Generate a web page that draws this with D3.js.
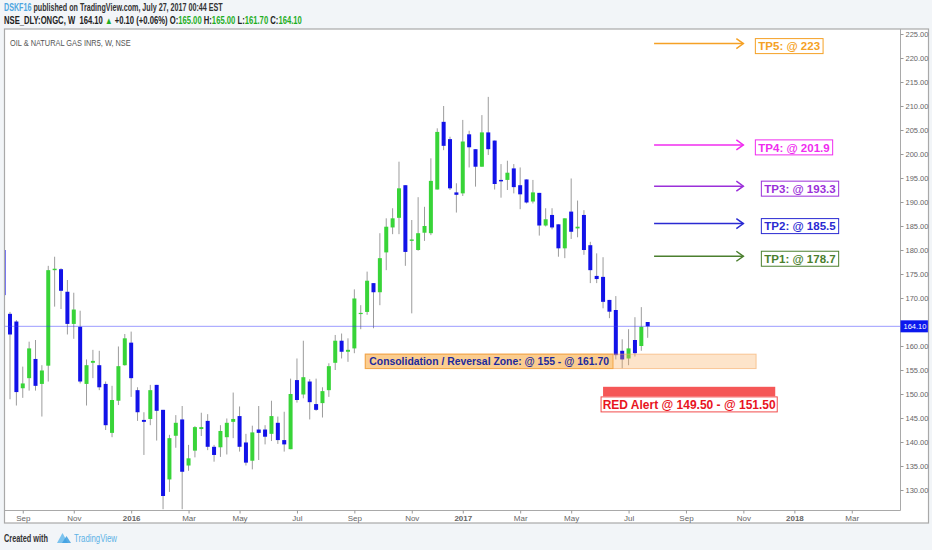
<!DOCTYPE html>
<html>
<head>
<meta charset="utf-8">
<script src="https://cdnjs.cloudflare.com/ajax/libs/d3/7.8.5/d3.min.js"></script>
<style>
  html, body { margin: 0; padding: 0; background: #f2f5f8; }
  svg { display: block; font-family: "Liberation Sans", Arial, sans-serif; }
  text { white-space: pre; }
</style>
</head>
<body>
<div id="chart"></div>
<script>
// ---- data (weekly bars, ONGC, NSE) ----
const firstWeek = '2015-08-17';
const lastWeek = '2017-07-24';

const open = [180.0,166.7,165.1,151.2,153.3,157.3,152.1,155.9,175.8,176.0,
  171.3,164.6,164.0,152.1,156.5,156.0,152.1,141.9,148.6,156.0,
  160.7,150.8,144.6,144.8,151.9,146.7,132.2,141.3,144.7,135.1,
  138.2,142.7,144.4,139.0,138.9,141.0,144.2,145.4,139.9,136.1,
  142.6,142.6,141.7,144.0,140.4,138.5,152.9,149.9,152.6,147.9,
  148.1,150.8,156.5,161.1,158.8,159.5,166.7,167.1,173.1,171.2,
  179.5,184.7,186.7,193.5,181.9,180.0,183.6,183.5,192.6,206.7,
  203.1,192.0,191.8,204.1,201.0,197.35,204.5,202.8,194.6,194.6,
  197.0,193.5,194.7,190.1,191.9,185.1,187.3,185.35,180.35,188.0,
  184.5,187.3,181.0,174.6,174.4,169.6,167.5,159.0,157.4,161.25,
  160.0,165.0];
const high = [180.5,167.1,165.4,155.7,160.9,161.25,156.0,176.7,178.6,176.2,
  173.75,171.1,167.35,157.2,159.2,159.0,152.6,151.7,159.9,162.5,
  163.0,151.4,146.2,151.9,151.9,146.7,141.5,145.6,147.5,139.4,
  143.3,146.1,145.8,139.4,143.5,144.9,150.3,147.4,141.7,143.4,
  147.5,143.5,148.6,145.3,146.3,153.2,157.4,161.1,153.1,153.2,
  151.4,156.4,162.3,162.6,161.6,171.8,168.5,175.5,173.1,183.5,
  186.6,188.7,198.4,193.5,186.25,191.0,189.0,199.1,205.35,210.0,
  203.6,193.9,207.1,204.85,201.0,208.1,211.9,202.8,197.9,198.6,
  197.9,197.2,194.7,194.6,191.9,188.7,188.7,185.35,186.6,194.9,
  190.3,188.3,181.7,179.3,178.5,169.6,170.4,161.4,163.5,166.0,
  168.1,165.0];
const low = [169.5,148.9,147.6,149.2,150.7,150.7,145.3,152.6,168.2,167.7,
  162.4,161.5,152.2,147.6,153.3,150.8,142.5,141.0,147.7,155.9,
  149.4,144.4,137.3,143.5,140.3,126.0,129.6,138.8,126.0,134.0,
  136.8,141.25,138.3,135.9,136.9,137.4,140.8,138.0,135.1,134.3,
  136.25,139.5,140.2,139.6,138.0,138.5,148.2,149.1,144.7,146.5,
  145.1,149.4,155.0,157.4,156.7,158.5,163.5,166.5,163.7,168.5,
  175.8,183.3,183.3,176.7,166.8,179.85,181.9,183.1,192.6,200.8,
  192.5,187.8,191.25,197.2,193.2,197.35,199.8,192.6,190.9,192.5,
  191.8,188.5,189.7,189.7,183.0,184.9,184.3,178.6,178.3,182.3,
  182.65,179.0,173.1,173.1,167.85,165.8,157.2,155.35,156.0,157.8,
  159.0,161.7];
const close = [170.6,162.4,150.4,152.2,159.5,151.7,154.9,175.8,176.1,171.5,
  164.6,167.6,152.6,156.0,156.9,151.4,143.5,148.75,155.8,161.6,
  153.3,146.2,144.2,150.8,146.5,128.75,140.8,144.0,133.8,136.6,
  143.1,143.1,139.0,137.3,142.3,144.0,144.8,139.0,135.7,142.0,
  141.9,141.1,145.4,140.4,139.5,150.0,148.75,153.5,148.3,146.7,
  150.6,155.8,161.1,158.8,159.2,169.9,166.9,173.6,171.2,178.3,
  184.85,186.6,192.85,179.6,182.2,183.5,185.0,194.4,204.6,201.7,
  192.85,191.5,202.6,201.4,197.35,204.5,201.0,193.75,194.3,196.1,
  193.1,191.6,189.9,192.0,185.1,186.4,184.7,180.35,186.6,183.8,
  184.85,180.0,175.8,173.95,169.2,167.15,158.1,157.2,159.5,158.5,
  164.0,164.1];

const yTicks = [130,135,140,145,150,155,160,165,170,175,180,185,190,195,200,205,210,215,220,225];
const tickMonths = ['2015-09','2015-11','2016-01','2016-03','2016-05','2016-07','2016-09','2016-11',
  '2017-01','2017-03','2017-05','2017-07','2017-09','2017-11','2018-01','2018-03'];
const tickLabels = ['Sep','Nov','2016','Mar','May','Jul','Sep','Nov',
  '2017','Mar','May','Jul','Sep','Nov','2018','Mar'];

// targets drawn by the author
const tpNames = ['TP1','TP2','TP3','TP4','TP5'];
const tpLevels = [178.7, 185.5, 193.3, 201.9, 223];
const arrowFrom = '2017-07-31', arrowTo = '2017-11-06';
const zoneBand = [155.3, 158.3];
const zoneFrom = '2016-09-17', zoneTo = '2017-11-20';
const zoneText = 'Consolidation / Reversal Zone: @ 155 - @ 161.70';
const alertBand = [149.5, 151.5];
const alertFrom = '2017-06-05', alertTo = '2017-12-11';
const alertText = 'RED Alert @ 149.50 - @ 151.50';

// ---- layout / style ----
const W = 932, H = 550;
const PL = 4.5, PR = 900.5, PT = 29, PB = 510.5, FR = 928.5, FB = 523;
const UP = '#38d438', DOWN = '#1212e8', WICK = '#9c9c9c';
const tpColors = ['#4b7f2e', '#2a2ad2', '#9b30d9', '#f02cef', '#f5a125'];
const tpGap = [18, 18, 18, 12, 12];

const parseDay = d3.timeParse('%Y-%m-%d');
const parseMonth = d3.timeParse('%Y-%m');
const weeks = d3.timeMonday.range(parseDay(firstWeek), d3.timeDay.offset(parseDay(lastWeek), 1));
const bars = weeks.map((d, i) => ({ date: d, o: open[i], h: high[i], l: low[i], c: close[i] }));

const x = d3.scaleTime().domain([weeks[1], weeks[weeks.length - 1]]).range([10, 647.7]);
const y = d3.scaleLinear().domain([130, 225]).range([490, 34]);

const svg = d3.select('#chart').append('svg').attr('width', W).attr('height', H);
svg.append('rect').attr('width', W).attr('height', H).attr('fill', '#f2f5f8');

function fit(sel, x0, w) {
  const len = sel.node().getComputedTextLength();
  sel.attr('x', 0).attr('transform', `translate(${x0},0) scale(${w / len},1)`);
}

// ---- header ----
const last = bars[bars.length - 1], prev = bars[bars.length - 2];
const chg = last.c - prev.c;
const f2 = d3.format('.2f');
const GREEN_TXT = '#1fae1f';

const h1 = svg.append('text').attr('y', 11).style('font-size', '10px').style('font-weight', 'bold');
h1.append('tspan').attr('fill', '#4ea6df').text('DSKF16');
h1.append('tspan').attr('fill', '#333').text(' published on TradingView.com, July 27, 2017 00:44 EST');
fit(h1, 4, 219);

const h2 = svg.append('text').attr('y', 24.5).style('font-size', '10px').style('font-weight', 'bold').attr('fill', '#222');
h2.append('tspan').text(`NSE_DLY:ONGC, W  ${f2(last.c)} `);
h2.append('tspan').attr('fill', GREEN_TXT).text(chg >= 0 ? '\u25B2' : '\u25BC');
h2.append('tspan').text(` ${chg >= 0 ? '+' : ''}${f2(chg)} (${chg >= 0 ? '+' : ''}${f2(chg / prev.c * 100)}%) O:`);
h2.append('tspan').attr('fill', GREEN_TXT).text(f2(last.o));
h2.append('tspan').text(' H:');
h2.append('tspan').attr('fill', GREEN_TXT).text(f2(last.h));
h2.append('tspan').text(' L:');
h2.append('tspan').attr('fill', GREEN_TXT).text(f2(last.l));
h2.append('tspan').text(' C:');
h2.append('tspan').attr('fill', GREEN_TXT).text(f2(last.c));
fit(h2, 4, 298);

// ---- frame ----
svg.append('rect').attr('x', PL).attr('y', PT).attr('width', FR - PL).attr('height', FB - PT)
  .attr('fill', '#fff').attr('stroke', '#a9a9a9').attr('stroke-width', 1.2);
svg.append('line').attr('x1', PR).attr('x2', PR).attr('y1', PT).attr('y2', PB).attr('stroke', '#a9a9a9');
svg.append('line').attr('x1', PL).attr('x2', PR).attr('y1', PB).attr('y2', PB).attr('stroke', '#a9a9a9');

svg.append('clipPath').attr('id', 'plotClip').append('rect')
  .attr('x', PL + 0.6).attr('y', PT + 0.6).attr('width', PR - PL - 1.1).attr('height', PB - PT - 1.1);

const title = svg.append('text').attr('y', 46.5).attr('fill', '#555').style('font-size', '9px')
  .text('OIL & NATURAL GAS INR5, W, NSE');
fit(title, 10, 121);

// ---- axes ----
const yAxis = svg.append('g').attr('transform', `translate(${PR},0)`)
  .call(d3.axisRight(y).tickValues(yTicks).tickSize(3).tickPadding(2).tickFormat(f2));
yAxis.select('.domain').remove();
yAxis.selectAll('.tick line').attr('stroke', '#999');
yAxis.selectAll('text').style('font-size', '7.5px').style('fill', '#666');
// the last-price tag sits over the nearest tick label, as in the original
yAxis.selectAll('.tick').filter(d => Math.abs(y(d) - y(close[close.length - 1])) < 9)
  .select('text').remove();

const tickDates = tickMonths.map(m => d3.timeMonday.ceil(parseMonth(m)));
const xAxis = svg.append('g').attr('transform', `translate(0,${PB})`)
  .call(d3.axisBottom(x).tickValues(tickDates).tickSize(3).tickPadding(2).tickFormat((d, i) => tickLabels[i]));
xAxis.select('.domain').remove();
xAxis.selectAll('.tick line').attr('stroke', '#999');
xAxis.selectAll('text').style('font-size', '8px').style('fill', '#666')
  .style('font-weight', (d, i) => /^\d+$/.test(tickLabels[i]) ? 'bold' : 'normal');

// ---- candles ----
const plot = svg.append('g').attr('clip-path', 'url(#plotClip)');
const bw = 4;
const candle = plot.selectAll('g.candle').data(bars).enter().append('g').attr('class', 'candle');
candle.append('line')
  .attr('x1', d => x(d.date)).attr('x2', d => x(d.date))
  .attr('y1', d => y(d.h)).attr('y2', d => y(d.l))
  .attr('stroke', WICK).attr('stroke-width', 1);
candle.append('rect')
  .attr('x', d => x(d.date) - bw / 2)
  .attr('y', d => y(Math.max(d.o, d.c)))
  .attr('width', bw)
  .attr('height', d => Math.max(1.2, Math.abs(y(d.o) - y(d.c))))
  .attr('fill', d => d.c >= d.o ? UP : DOWN);

// ---- last price line ----
plot.append('line').attr('x1', PL).attr('x2', PR).attr('y1', y(last.c)).attr('y2', y(last.c))
  .attr('stroke', '#3a3aff').attr('stroke-width', 1).attr('stroke-dasharray', '1,1');
svg.append('rect').attr('x', PR).attr('y', y(last.c) - 6).attr('width', FR - PR - 0.6).attr('height', 12)
  .attr('fill', '#0b18ee');
svg.append('text').attr('x', PR + 3).attr('y', y(last.c) + 2.8).attr('fill', '#fff')
  .style('font-size', '7.5px').text(f2(last.c));

// ---- consolidation zone ----
const zx0 = x(parseDay(zoneFrom)), zx1 = x(parseDay(zoneTo));
plot.append('rect').attr('x', zx0).attr('y', y(zoneBand[1]))
  .attr('width', zx1 - zx0).attr('height', y(zoneBand[0]) - y(zoneBand[1]))
  .attr('fill', 'rgba(250,170,90,0.32)').attr('stroke', 'rgba(245,170,100,0.6)');
const zt = plot.append('text').attr('x', zx0 + 4).attr('y', (y(zoneBand[0]) + y(zoneBand[1])) / 2 + 3.8)
  .attr('fill', '#1b2a9e').style('font-size', '10.4px').style('font-weight', 'bold').text(zoneText);
const ztw = zt.node().getComputedTextLength();
plot.insert('rect', 'text:last-of-type')
  .attr('x', zx0).attr('y', y(zoneBand[1])).attr('width', ztw + 8).attr('height', y(zoneBand[0]) - y(zoneBand[1]))
  .attr('fill', 'rgba(250,185,95,0.55)').attr('stroke', '#f2a64a');

// ---- red alert ----
const ax0 = x(parseDay(alertFrom)), ax1 = x(parseDay(alertTo));
plot.append('rect').attr('x', ax0).attr('y', y(alertBand[1]))
  .attr('width', ax1 - ax0).attr('height', y(alertBand[0]) - y(alertBand[1]))
  .attr('fill', '#f55757');
plot.append('rect').attr('x', ax0 - 2).attr('y', y(alertBand[0]) + 0.5)
  .attr('width', ax1 - ax0 + 4).attr('height', 15)
  .attr('fill', '#fff').attr('stroke', '#f24b4b');
plot.append('text').attr('x', (ax0 + ax1) / 2).attr('y', y(alertBand[0]) + 12.3)
  .attr('text-anchor', 'middle').attr('fill', '#e8141e')
  .style('font-size', '12px').style('font-weight', 'bold').text(alertText);

// ---- target arrows ----
const tx0 = x(parseDay(arrowFrom)), tx1 = x(parseDay(arrowTo));
tpLevels.forEach((lvl, i) => {
  const yy = y(lvl), col = tpColors[i];
  plot.append('line').attr('x1', tx0).attr('x2', tx1).attr('y1', yy).attr('y2', yy)
    .attr('stroke', col).attr('stroke-width', 1.5);
  plot.append('path').attr('d', `M${tx1 - 7},${yy - 5}L${tx1},${yy}L${tx1 - 7},${yy + 5}`)
    .attr('fill', 'none').attr('stroke', col).attr('stroke-width', 1.5);
  const bx = tx1 + tpGap[i], cy = yy + 2.5;
  const box = plot.append('rect').attr('x', bx).attr('y', cy - 7.5).attr('height', 15)
    .attr('fill', '#fff').attr('stroke', col).attr('stroke-width', 1);
  const t = plot.append('text').attr('x', bx + 3).attr('y', cy + 4.2).attr('fill', col)
    .style('font-size', '11.5px').style('font-weight', 'bold').text(`${tpNames[i]}: @ ${lvl}`);
  box.attr('width', t.node().getComputedTextLength() + 6);
});

// ---- footer ----
const ft = svg.append('text').attr('y', 542).attr('fill', '#333').style('font-size', '10px')
  .style('font-weight', 'bold').text('Created with');
fit(ft, 4, 44);
svg.append('path').attr('d', 'M57,543 L62.5,533 L68,543 Z').attr('fill', '#7cc3ee');
svg.append('path').attr('d', 'M62,543 L66.5,536 L71,543 Z').attr('fill', '#3d9fe0').attr('opacity', 0.85);
const tv = svg.append('text').attr('y', 542).attr('fill', '#5db2e6').style('font-size', '10px').text('TradingView');
fit(tv, 74, 43);
</script>
</body>
</html>
